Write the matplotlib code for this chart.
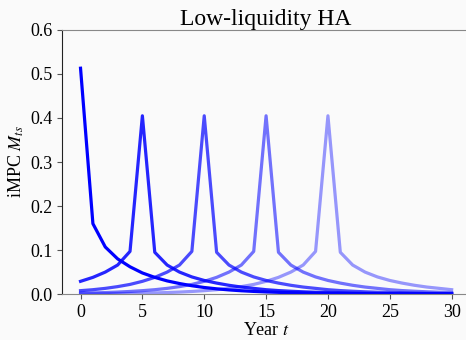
import numpy as np
import matplotlib
matplotlib.use("Agg")
import matplotlib.pyplot as plt

plt.rcParams['font.family'] = ['Liberation Serif', 'DejaVu Serif']
plt.rcParams['mathtext.fontset'] = 'stix'

years = np.arange(0, 31)
shock_years = [0, 5, 10, 15, 20]
alphas = [1.0, 0.85, 0.7, 0.55, 0.4]

# iMPC column for an income shock at year 0
impc_s0 = [0.513, 0.160, 0.107, 0.080, 0.062, 0.048, 0.038, 0.030, 0.024, 0.019,
           0.015, 0.012, 0.0095, 0.0076, 0.0061, 0.0049, 0.0040, 0.0032, 0.0026, 0.0021,
           0.0017, 0.0014, 0.0011, 0.0009, 0.0007, 0.0006, 0.0005, 0.0004, 0.0003, 0.0003,
           0.0002]

# later shocks: peak, values before the shock (going back), values after (going forward)
peak = 0.405
before = [0.097, 0.066, 0.050, 0.038, 0.029, 0.022, 0.017, 0.013, 0.010, 0.0078,
          0.0060, 0.0046, 0.0035, 0.0027, 0.0021, 0.0016, 0.0012, 0.0009, 0.0007, 0.0005]
after = [0.095, 0.066, 0.050, 0.039, 0.031, 0.025, 0.020, 0.016, 0.013, 0.010,
         0.008, 0.0065, 0.0052, 0.0042, 0.0034, 0.0027, 0.0022, 0.0018, 0.0014, 0.0011,
         0.0009, 0.0007, 0.0006, 0.0005, 0.0004]

curves = [impc_s0]
for s in shock_years[1:]:
    col = list(reversed(before[:s])) + [peak] + after[:30 - s]
    curves.append(col)

fig = plt.figure(figsize=(4.66, 3.40), dpi=100, facecolor='#fafafa')
ax = fig.add_axes([0.133, 0.135, 0.876, 0.777], facecolor='#fafafa')

for col, a in zip(curves, alphas):
    ax.plot(years, col, color='blue', alpha=a, lw=2.3)

ax.set_xlim(-1.5, 31.5)
ax.set_ylim(0, 0.6)
ax.set_xticks([0, 5, 10, 15, 20, 25, 30])
ax.set_yticks([0.0, 0.1, 0.2, 0.3, 0.4, 0.5, 0.6])
ax.set_title('Low-liquidity HA', fontsize=17, pad=3)
ax.set_xlabel('Year $t$', fontsize=13, labelpad=1)
ax.set_ylabel('iMPC $M_{ts}$', fontsize=13, labelpad=3)
ax.tick_params(labelsize=13, color='#555555')
for side in ['top', 'bottom']:
    ax.spines[side].set_color('#888888')
ax.spines['right'].set_visible(False)
ax.spines['left'].set_color('#222222')

fig.savefig('out.png', dpi=100, facecolor='#fafafa')
